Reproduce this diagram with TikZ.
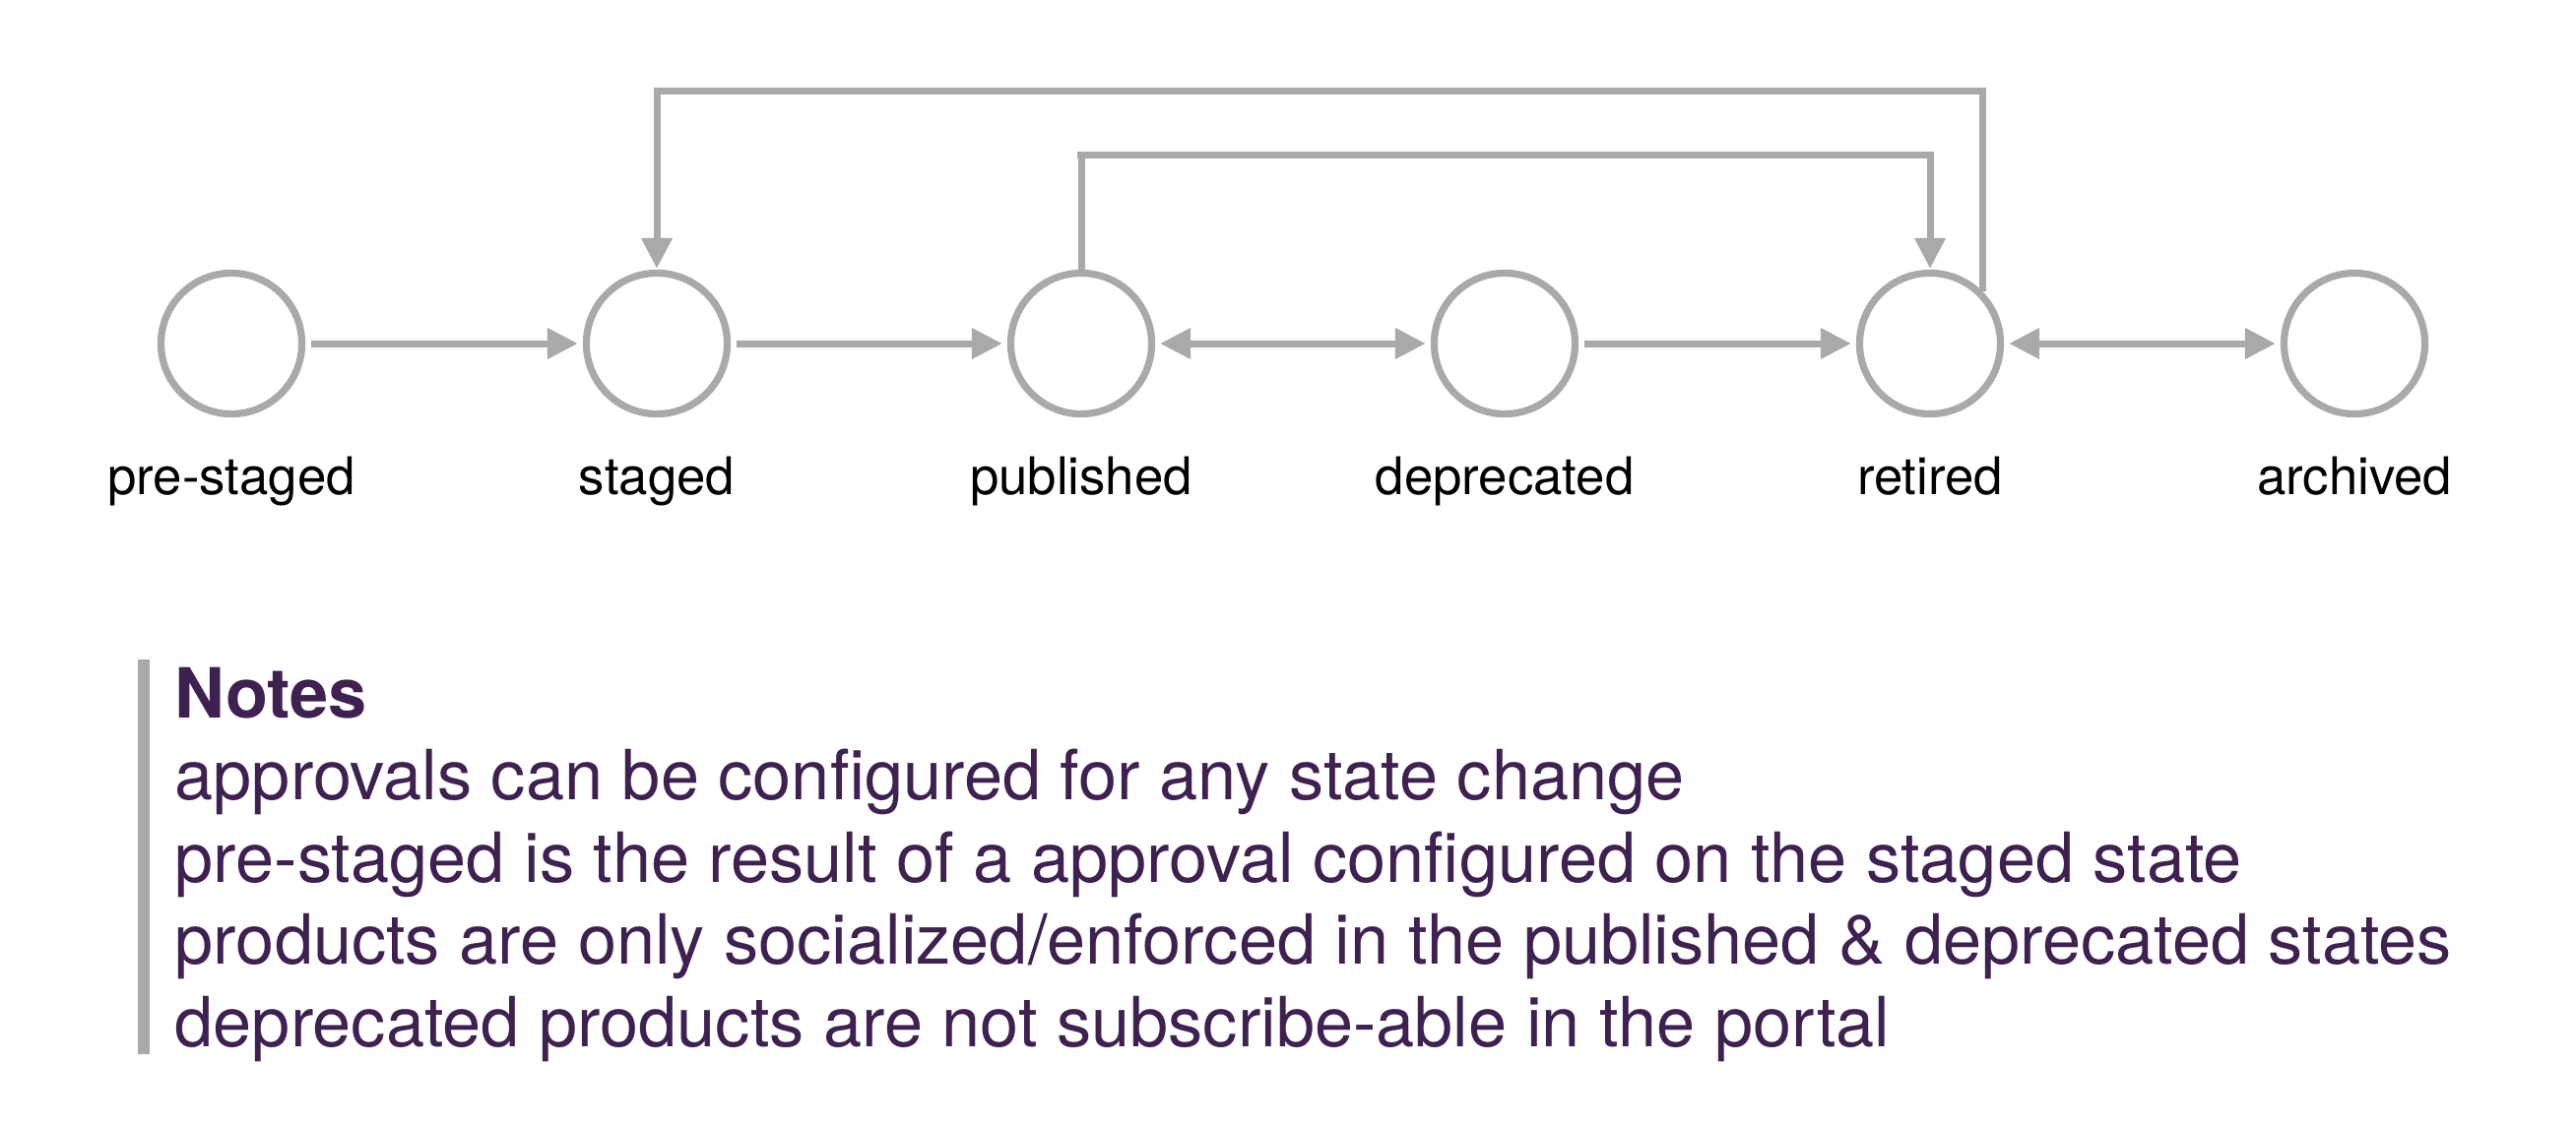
\documentclass[tikz,border=0pt]{standalone}
\usepackage{fontspec}
\setmainfont{TeX Gyre Heros}
\usetikzlibrary{arrows.meta}
\definecolor{lgray}{HTML}{A8A9A8}
\definecolor{npurple}{HTML}{3E2150}
\begin{document}
\begin{tikzpicture}[x=0.01cm,y=-0.01cm,
  state/.style={circle,draw=lgray,line width=0.072cm,minimum size=1.43cm,inner sep=0pt},
  lbl/.style={anchor=base,font=\fontsize{15}{18}\selectfont,text=black,inner sep=0pt},
  conn/.style={draw=lgray,line width=0.07cm,-{Triangle[length=0.31cm,width=0.30cm]},shorten >=0.05cm,shorten <=0.06cm},
  bconn/.style={conn,{Triangle[length=0.31cm,width=0.30cm]}-{Triangle[length=0.31cm,width=0.30cm]}},
  note/.style={anchor=base west,font=\fontsize{20}{24}\selectfont,text=npurple,inner sep=0pt}
]
\useasboundingbox[fill=white] (0,0) rectangle (2616,1144);
\node[state] (ps) at (235,349) {};
\node[state] (st) at (667,349) {};
\node[state] (pu) at (1098,349) {};
\node[state] (de) at (1528,349) {};
\node[state] (re) at (1960,349) {};
\node[state] (ar) at (2391,349) {};
\node[lbl] (lps) at (235,502) {pre-staged};
\node[lbl] (lst) at (667,502) {staged};
\node[lbl] (lpu) at (1098,502) {published};
\node[lbl] (lde) at (1528,502) {deprecated};
\node[lbl] (lre) at (1960,502) {retired};
\node[lbl] (lar) at (2391,502) {archived};
\draw[conn] (ps) -- (st);
\draw[conn] (st) -- (pu);
\draw[bconn,shorten <=0.05cm] (pu) -- (de);
\draw[conn] (de) -- (re);
\draw[bconn,shorten <=0.05cm] (re) -- (ar);
\coordinate (rtop) at (2010,92);
\coordinate (ptop) at (1094,157);
\draw[conn,shorten <=0pt,shorten >=0.01cm] (re.45) |- (rtop) -| (st.north);
\draw[conn,shorten <=0pt,shorten >=0.01cm] (pu.north) |- (ptop) -| (re.north);
\fill[lgray] (140,670) rectangle (152,1071) coordinate (barend);
\node[note,font=\fontsize{20}{24}\selectfont\bfseries] (nh) at (177,729) {Notes};
\node[note] (n1) at (177,812) {approvals can be configured for any state change};
\node[note] (n2) at (177,896) {pre-staged is the result of a approval configured on the staged state};
\node[note] (n3) at (177,979) {products are only socialized/enforced in the published \& deprecated states};
\node[note] (n4) at (177,1063) {deprecated products are not subscribe-able in the portal};
\end{tikzpicture}
\end{document}
